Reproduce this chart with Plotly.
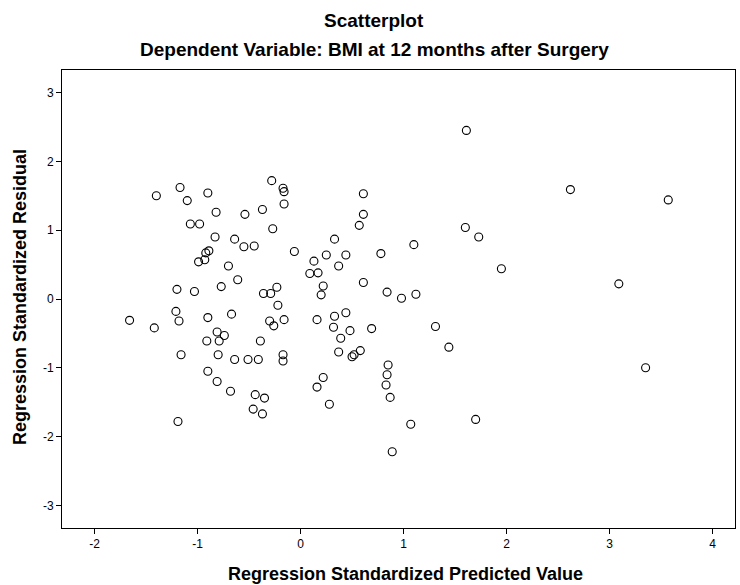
import plotly.graph_objects as go

# Regression standardized predicted values (x) and standardized residuals (y)
pred = [-1.40, -1.17, -1.10, -0.90, -0.82, -0.54, -0.37, -0.28, -1.07, -0.98,
        -0.83, -0.64, -0.55, -0.45, -0.92, -0.89, -0.99, -0.93, -0.70, -0.61,
        -0.77, -1.20, -1.03, -0.27, -0.17, -0.16, -0.16, -0.06, 0.61, 0.61,
        0.57, 0.33, 1.10, 0.78, 0.13, 0.25, 0.44, 0.37, 0.09, 0.17,
        0.22, 0.20, 0.61, 0.84, 0.98, 1.12, -0.36, -0.29, -0.23, -1.66,
        -1.42, -1.21, -1.18, -0.90, -0.67, -0.81, -0.74, -0.79, -0.91, -0.39,
        -1.16, -0.80, -0.64, -0.51, -0.41, -0.90, -0.81, -0.68, -0.44, -0.35,
        -0.46, -0.37, -1.19, -0.22, -0.30, -0.26, -0.16, -0.17, -0.17, 0.16,
        0.33, 0.44, 0.32, 0.48, 0.69, 0.39, 0.37, 0.50, 0.52, 0.58,
        0.85, 0.84, 0.83, 0.87, 0.22, 0.16, 0.28, 1.07, 0.89, 1.61,
        2.62, 3.57, 1.60, 1.73, 1.95, 3.09, 1.31, 1.44, 3.35, 1.70]
resid = [1.50, 1.62, 1.43, 1.54, 1.26, 1.23, 1.30, 1.72, 1.09, 1.09,
         0.90, 0.87, 0.76, 0.77, 0.67, 0.70, 0.54, 0.57, 0.48, 0.28,
         0.18, 0.14, 0.11, 1.02, 1.61, 1.56, 1.38, 0.69, 1.53, 1.23,
         1.07, 0.87, 0.79, 0.66, 0.55, 0.64, 0.64, 0.48, 0.37, 0.38,
         0.19, 0.06, 0.24, 0.10, 0.01, 0.07, 0.08, 0.08, 0.17, -0.31,
         -0.42, -0.18, -0.32, -0.27, -0.22, -0.48, -0.53, -0.61, -0.61, -0.61,
         -0.81, -0.81, -0.88, -0.88, -0.88, -1.05, -1.20, -1.34, -1.39, -1.44,
         -1.60, -1.67, -1.78, -0.09, -0.32, -0.39, -0.30, -0.81, -0.90, -0.30,
         -0.25, -0.20, -0.41, -0.46, -0.43, -0.57, -0.77, -0.84, -0.81, -0.75,
         -0.96, -1.10, -1.25, -1.43, -1.14, -1.28, -1.53, -1.82, -2.22, 2.45,
         1.59, 1.44, 1.04, 0.90, 0.44, 0.22, -0.40, -0.70, -1.00, -1.75]

x_ticks = [-2, -1, 0, 1, 2, 3, 4]
x_tick_labels = ["-2", "-1", "0", "1", "2", "3", "4"]
y_ticks = [-3, -2, -1, 0, 1, 2, 3]
y_tick_labels = ["-3", "-2", "-1", "0", "1", "2", "3"]

title = "Scatterplot"
subtitle = "Dependent Variable: BMI at 12 months after Surgery"
x_title = "Regression Standardized Predicted Value"
y_title = "Regression Standardized Residual"

FONT = "Liberation Sans, Arial, sans-serif"

fig = go.Figure(go.Scatter(
    x=pred, y=resid, mode="markers",
    marker=dict(symbol="circle-open", size=8, color="black",
                line=dict(width=1.1, color="black")),
    hoverinfo="x+y",
))

axis_common = dict(
    showline=True, linecolor="black", linewidth=1, mirror=True,
    ticks="outside", ticklen=5, tickcolor="black", tickwidth=1,
    showgrid=False, zeroline=False, automargin=False,
    tickfont=dict(family=FONT, size=12, color="black"),
)

# plot area: x 62..735, y 70..528 (pixels)
L, R, T, B = 62, 5, 70, 57
W, H = 740, 585
pw, ph = W - L - R, H - T - B

def px_x(px):
    return (px - L) / pw

def px_y(py):
    return (H - B - py) / ph

fig.update_layout(
    width=W, height=H,
    margin=dict(l=L, r=R, t=T, b=B),
    paper_bgcolor="white", plot_bgcolor="white",
    showlegend=False,
    xaxis=dict(range=[-2.316, 4.218], tickvals=x_ticks, ticktext=x_tick_labels,
               **axis_common),
    yaxis=dict(range=[-3.328, 3.328], tickvals=y_ticks, ticktext=y_tick_labels,
               **axis_common),
    annotations=[
        dict(text="<b>" + title + "</b>", x=px_x(374), y=px_y(20), xref="paper", yref="paper",
             xanchor="center", yanchor="middle", showarrow=False,
             font=dict(family=FONT, size=19, color="black")),
        dict(text="<b>" + subtitle + "</b>", x=px_x(374), y=px_y(50), xref="paper", yref="paper",
             xanchor="center", yanchor="middle", showarrow=False,
             font=dict(family=FONT, size=19, color="black")),
        dict(text="<b>" + x_title + "</b>", x=px_x(405), y=px_y(574), xref="paper", yref="paper",
             xanchor="center", yanchor="middle", showarrow=False,
             font=dict(family=FONT, size=18, color="black")),
        dict(text="<b>" + y_title + "</b>", x=px_x(20), y=px_y(297), xref="paper", yref="paper",
             xanchor="center", yanchor="middle", showarrow=False, textangle=-90,
             font=dict(family=FONT, size=18, color="black")),
    ],
)

fig.write_html("out.html", config={"displayModeBar": False},
               post_script="document.body.style.margin='0';document.body.style.overflow='hidden';")
